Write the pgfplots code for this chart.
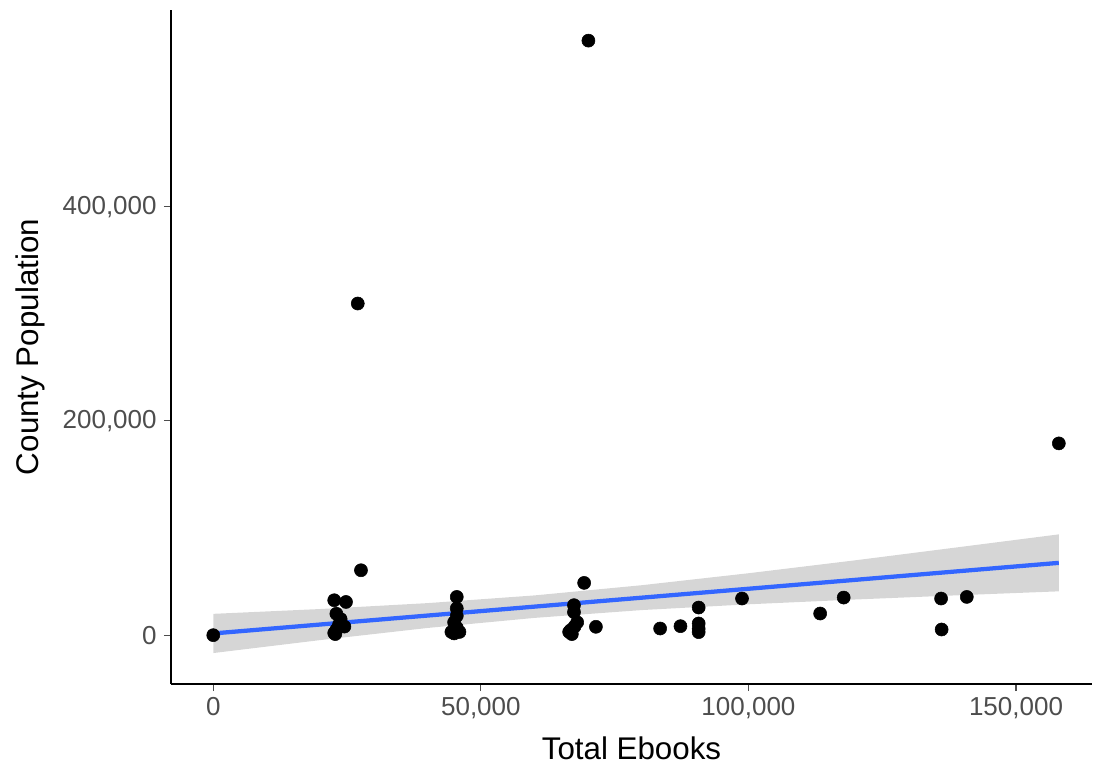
\documentclass[border=0pt]{standalone}
\usepackage{fontspec}
\setmainfont{Liberation Sans}
\usepackage{pgfplots}
\pgfplotsset{compat=1.18}

\definecolor{smoothblue}{HTML}{3366FF}
\definecolor{ticktext}{HTML}{4D4D4D}
\definecolor{ribbon}{HTML}{999999}

\begin{document}
\begin{tikzpicture}
\begin{axis}[
    scale only axis,
    width=690.75pt,
    height=505.5pt,
    xmin=-7900, xmax=164200,
    ymin=-45600, ymax=583600,
    scaled ticks=false,
    axis lines*=left,
    axis line style={black, line width=1pt},
    tick align=outside,
    major tick length=5.25pt,
    tick style={ticktext, line width=0.8pt},
    xtick={0,50000,100000,150000},
    xticklabels={0,{50,000},{100,000},{150,000}},
    ytick={0,200000,400000},
    yticklabels={0,{200,000},{400,000}},
    ticklabel style={font=\fontsize{19.5}{21}\selectfont, text=ticktext},
    xticklabel style={yshift=-1pt},
    yticklabel style={xshift=-2pt},
    xlabel={Total Ebooks},
    ylabel={County Population},
    every axis x label/.style={at={(axis description cs:0.5,0)}, anchor=center, yshift=-48pt, font=\fontsize{23.5}{26}\selectfont},
    every axis y label/.style={at={(axis description cs:0,0.5)}, rotate=90, anchor=center, yshift=105.75pt, font=\fontsize{23.5}{26}\selectfont},
    clip=false,
]
% observations
\addplot[only marks, mark=*, mark size=4.9pt, black] coordinates {
    (0,0)
    (70100,555000) (27000,309600) (27600,60600)
    (22600,32600) (24800,31000)
    (22600,2000) (23000,5000) (23500,10000) (23800,15000) (23000,20000) (24500,8000) (22800,1000)
    (45500,35700) (45500,25000) (45500,18000) (45000,12000)
    (45000,1600) (44500,3000) (46000,3000) (45500,7000)
    (69300,48800) (67400,21500) (67400,28000)
    (66800,4700) (66500,3000) (67500,8000) (68000,12000) (67000,1000)
    (71500,7800) (83500,6200) (87300,8400)
    (90700,25800) (90700,10900) (90700,2800) (90700,6000)
    (98800,34200) (113400,20200) (117800,35100)
    (136000,34200) (140800,35700) (136100,5300)
    (158000,179000)
};
% confidence band
\addplot[fill=ribbon, fill opacity=0.4, draw=none] coordinates {
    (0,19900) (20000,24400) (40000,29900) (60000,37100) (80000,46600)
    (100000,57800) (120000,69900) (140000,82600) (158000,94100)
    (158000,40900) (140000,37400) (120000,33300) (100000,28800)
    (80000,23400) (60000,16100) (40000,6700) (20000,-4600) (0,-16700)
} -- cycle;
% fitted line
\addplot[smoothblue, line width=3.2pt] coordinates {
    (0,1600) (158000,67500)
};
\end{axis}
\pgfresetboundingbox
\useasboundingbox (-128.25pt,-63pt) rectangle (692.25pt,513pt);
\end{tikzpicture}
\end{document}
